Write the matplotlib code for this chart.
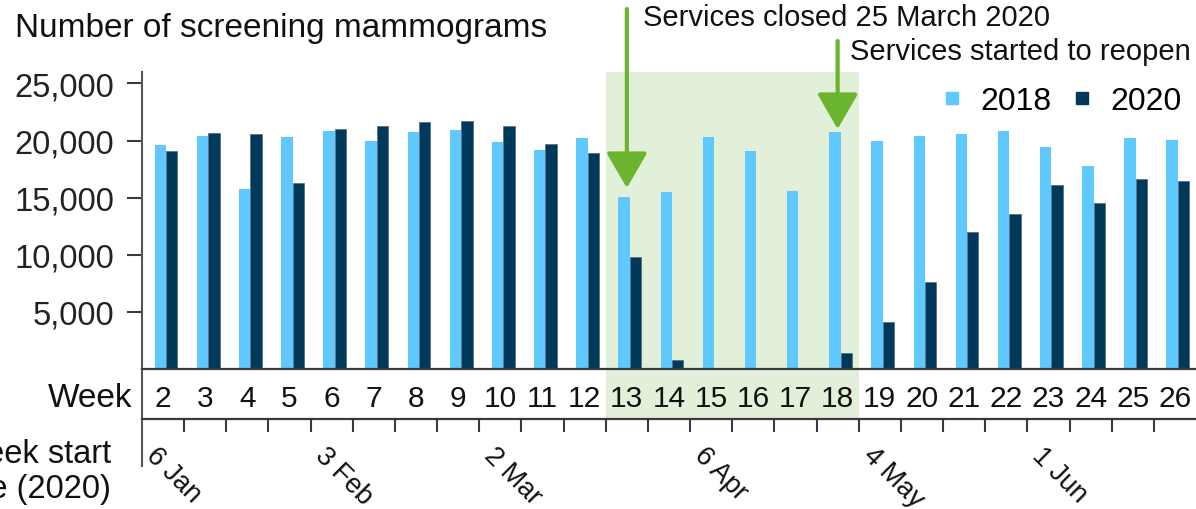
import matplotlib
matplotlib.use('Agg')
import matplotlib.pyplot as plt
from matplotlib.lines import Line2D
from matplotlib.patches import Rectangle
from matplotlib.transforms import blended_transform_factory
import numpy as np

# ---- data ----
weeks = list(range(2, 27))
v2018 = [19600, 20400, 15750, 20350, 20850, 20000, 20750, 20950, 19850, 19200,
         20200, 15100, 15500, 20350, 19100, 15600, 20750, 19950, 20400, 20550,
         20850, 19400, 17800, 20200, 20050]
v2020 = [19050, 20700, 20550, 16250, 21050, 21250, 21600, 21750, 21300, 19700,
         18900, 9800, 800, 0, 0, 0, 1400, 4150, 7650, 11950,
         13600, 16100, 14500, 16650, 16500]
date_weeks = [2, 6, 10, 15, 19, 23]
date_labels = ['6 Jan', '3 Feb', '2 Mar', '6 Apr', '4 May', '1 Jun']
closed_week = 13
reopen_week = 18
y_ticks = [5000, 10000, 15000, 20000, 25000]
series_names = ['2018', '2020']
title = 'Number of screening mammograms'
closed_text = 'Services closed 25 March 2020'
reopen_text = 'Services started to reopen'

plt.rcParams['font.family'] = ['Liberation Sans', 'DejaVu Sans']

W, H = 1196, 510
fig = plt.figure(figsize=(W / 100, H / 100), dpi=100)
L, R, B, T = 142, 1196, 370, 73
ax = fig.add_axes([L / W, (H - B) / H, (R - L) / W, (B - T) / H])
n = len(weeks)
ax.set_xlim(-0.5, n - 0.5)
ax.set_ylim(0, 26000)

def ay(py):
    return (B - py) / (B - T)

def axx(px):
    return (px - L) / (R - L)

blend = blended_transform_factory(ax.transData, ax.transAxes)

c18 = '#5FC8FE'
c20 = '#00395A'
green = '#6AB42E'
shade = '#E2F0D9'
axcol = '#3a3a3a'
txt = '#111111'

x = np.arange(n)
ax.bar(x - 0.065, v2018, width=0.27, color=c18, zorder=2)
ax.bar(x + 0.205, v2020, width=0.27, color=c20, edgecolor='#51687a',
       linewidth=0.5, zorder=2)

# shaded closure period
i0 = weeks.index(closed_week)
i1 = weeks.index(reopen_week)
ax.add_patch(Rectangle((i0 - 0.5, ay(420)), i1 - i0 + 1, 1 - ay(420),
                       transform=blend, clip_on=False, color=shade,
                       zorder=0, lw=0))

for s in ['top', 'right', 'left']:
    ax.spines[s].set_visible(False)
ax.spines['bottom'].set_color(axcol)
ax.spines['bottom'].set_linewidth(1.6)

ax.set_yticks(y_ticks)
ax.set_yticklabels([f'{v:,}' for v in y_ticks])
ax.tick_params(axis='y', length=11, width=1.5, pad=9, labelsize=23.5,
               color=axcol, labelcolor='#222222')
ax.set_xticks([])

# left axis line extended
ax.add_line(Line2D([0, 0], [ay(467), 1], transform=ax.transAxes,
                   clip_on=False, color='#555555', lw=1.5))
# week row bottom line
ax.add_line(Line2D([0, 1], [ay(420), ay(420)], transform=ax.transAxes,
                   clip_on=False, color=axcol, lw=1.6))
# boundary ticks
for k in range(n - 1):
    ax.add_line(Line2D([k + 0.5, k + 0.5], [ay(420), ay(432)], transform=blend,
                       clip_on=False, color=axcol, lw=1.5))

for i, w in enumerate(weeks):
    ax.text(i, ay(399), str(w), ha='center', va='center', fontsize=21.5,
            transform=blend, color=txt)
ax.text(axx(132), ay(399), 'Week', ha='right', va='center', fontsize=24,
        transform=ax.transAxes, color=txt)

for w, lab in zip(date_weeks, date_labels):
    idx = weeks.index(w)
    ax.text(idx - 0.5 + 0.2, ay(452), lab, rotation=-45, rotation_mode='anchor',
            ha='left', va='center', fontsize=19.5, transform=blend, color=txt)

fig.text(111 / W, (H - 472) / H, 'Week start\ndate (2020)', ha='right',
         va='center', fontsize=23.5, linespacing=1.15, color=txt)
fig.text(15 / W, (H - 28) / H, title, ha='left', va='center', fontsize=24,
         color=txt)

# arrows
arrow_kw = dict(arrowstyle='-|>,head_length=0.95,head_width=0.55', color=green,
                lw=3, shrinkA=0, shrinkB=0, mutation_scale=23)
ax.annotate('', xy=(i0, ay(189)), xytext=(i0, ay(10)), xycoords=blend,
            textcoords=blend, arrowprops=arrow_kw, annotation_clip=False)
ax.annotate('', xy=(i1, ay(130)), xytext=(i1, ay(42)), xycoords=blend,
            textcoords=blend, arrowprops=arrow_kw, annotation_clip=False)
ax.text(i0 + 0.38, ay(18), closed_text, transform=blend, ha='left',
        va='center', fontsize=21, color=txt)
ax.text(i1 + 0.29, ay(52), reopen_text, transform=blend, ha='left',
        va='center', fontsize=21, color=txt)

handles = [Line2D([], [], marker='s', ls='none', color=c18, markersize=8),
           Line2D([], [], marker='s', ls='none', color=c20, markersize=8)]
ax.legend(handles, series_names, loc='center right',
          bbox_to_anchor=(axx(1182), ay(102)), ncol=2, frameon=False,
          fontsize=23, handlelength=0.4, handletextpad=0.7,
          columnspacing=0.75, borderaxespad=0, borderpad=0)

fig.savefig('out.png', dpi=100)
